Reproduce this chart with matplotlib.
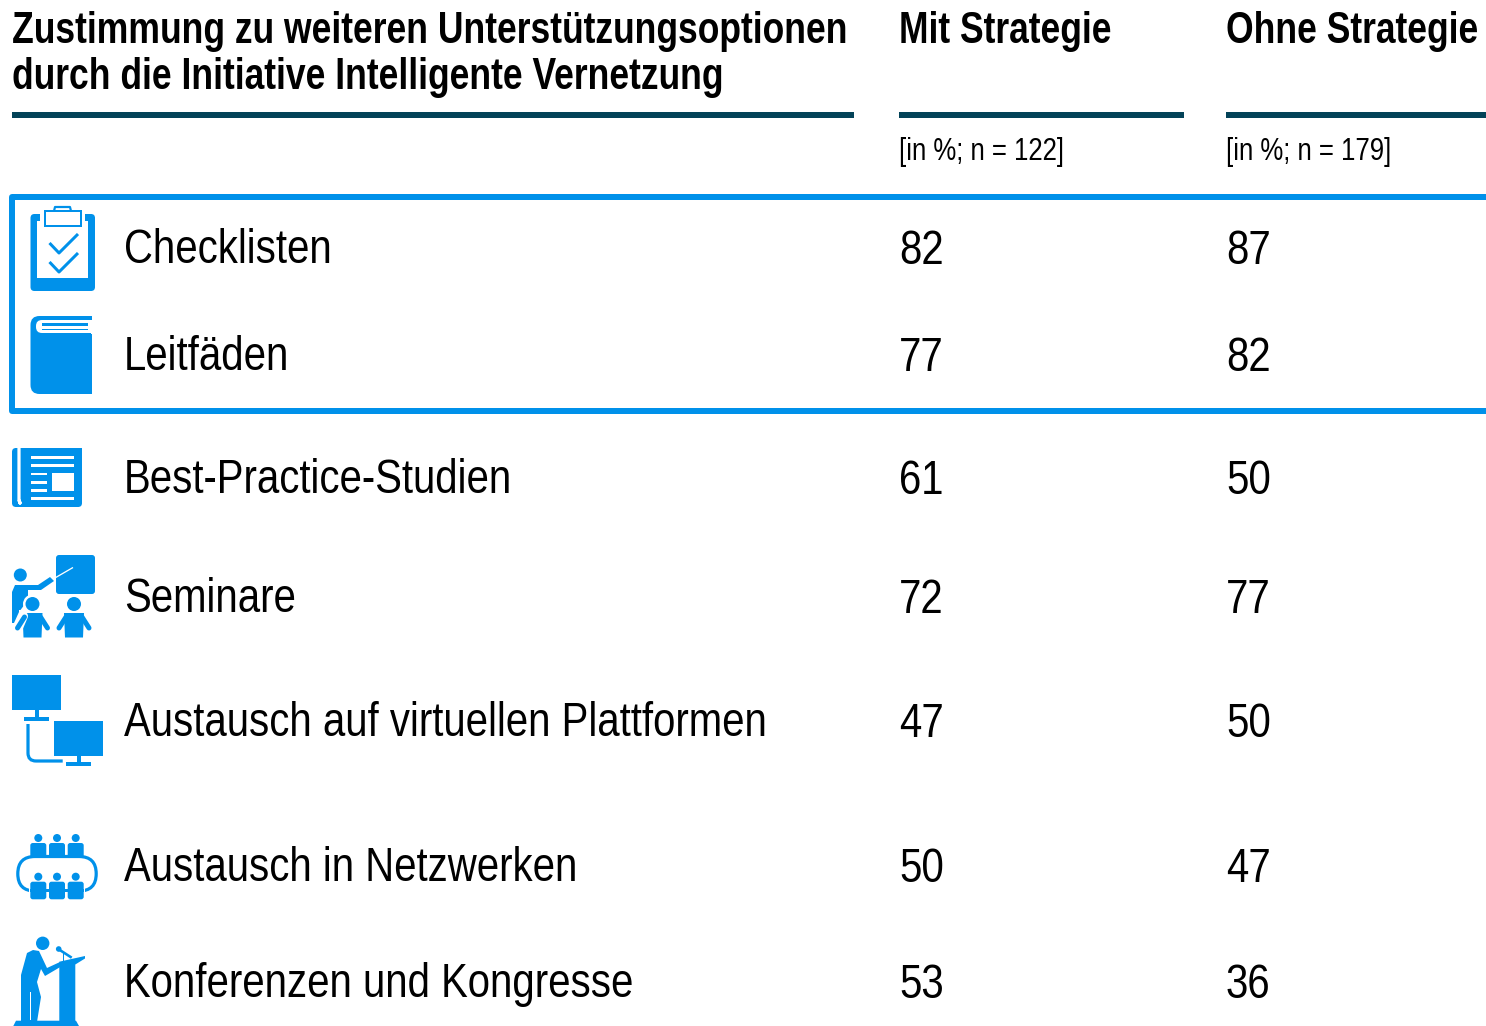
"""Zustimmung zu Unterstuetzungsoptionen: table with icons."""
import tempfile
from pathlib import Path

import matplotlib
matplotlib.use("Agg")
import matplotlib.pyplot as plt
from fontTools.ttLib import TTFont
from matplotlib import font_manager as fm
from matplotlib.font_manager import FontProperties
from matplotlib.patches import Circle, FancyBboxPatch, PathPatch, Polygon, Rectangle
from matplotlib.path import Path as MPath

BLUE = "#0091EA"
TEAL = "#034358"
PX = 72 / 100  # one pixel in points at dpi 100

title_lines = ["Zustimmung zu weiteren Unterstützungsoptionen",
               "durch die Initiative Intelligente Vernetzung"]
col_heads = ["Mit Strategie", "Ohne Strategie"]
col_subs = ["[in %; n = 122]", "[in %; n = 179]"]
options = ["Checklisten", "Leitfäden", "Best-Practice-Studien", "Seminare",
           "Austausch auf virtuellen Plattformen", "Austausch in Netzwerken",
           "Konferenzen und Kongresse"]
mit_strategie = [82, 77, 61, 72, 47, 50, 53]
ohne_strategie = [87, 82, 50, 77, 50, 47, 36]

row_base = [264, 371, 494, 613, 737, 882, 998]
col_x = [899, 1226]


def narrow_font(weight, scale):
    # no narrow Helvetica here, so squeeze Liberation Sans sideways
    src = fm.findfont(FontProperties(family="Liberation Sans", weight=weight))
    font = TTFont(src)
    glyf, hmtx = font["glyf"], font["hmtx"]
    for name in font.getGlyphOrder():
        g = glyf[name]
        if g.isComposite():
            for c in g.components:
                c.x = round(c.x * scale)
        elif g.numberOfContours > 0:
            g.coordinates.scale((scale, 1))
            g.coordinates.toInt()
        adv, lsb = hmtx[name]
        hmtx[name] = (round(adv * scale), round(lsb * scale))
    for name in font.getGlyphOrder():
        if glyf[name].numberOfContours != 0:
            glyf[name].recalcBounds(glyf)
    if "kern" in font:
        for table in font["kern"].kernTables:
            table.kernTable = {k: round(v * scale) for k, v in table.kernTable.items()}
    for tag in ("fpgm", "prep", "cvt ", "hdmx", "VDMX", "LTSH"):
        if tag in font:
            del font[tag]
    out = Path(tempfile.mkdtemp()) / f"narrow_{weight}.ttf"
    font.save(out)
    return str(out)


REGULAR = narrow_font("normal", 0.826)
BOLD = narrow_font("bold", 0.797)

fig = plt.figure(figsize=(14.86, 10.26), dpi=100)
ax = fig.add_axes([0, 0, 1, 1])
ax.set_xlim(0, 1486)
ax.set_ylim(1026, 0)
ax.axis("off")


def rect(x0, y0, x1, y1, color=BLUE):
    ax.add_patch(Rectangle((x0, y0), x1 - x0, y1 - y0, fc=color, ec="none"))


def rrect(x0, y0, x1, y1, r, fc=BLUE):
    ax.add_patch(FancyBboxPatch((x0 + r, y0 + r), x1 - x0 - 2 * r, y1 - y0 - 2 * r,
                                boxstyle=f"round,pad={r}", fc=fc, ec="none"))


def line(pts, lw=3.0, color=BLUE, cap="butt"):
    xs, ys = zip(*pts)
    ax.plot(xs, ys, color=color, lw=lw * PX, solid_capstyle=cap, solid_joinstyle="round")


def dot(x, y, r, color=BLUE):
    ax.add_patch(Circle((x, y), r, fc=color, ec="none"))


def poly(pts, color=BLUE):
    ax.add_patch(Polygon(pts, closed=True, fc=color, ec="none"))


def icon_clipboard():
    rrect(30.5, 214, 95, 291, 4)
    rect(37, 221, 88, 278, "white")
    rect(40, 213, 85, 222, "white")
    ax.add_patch(Rectangle((44.7, 211), 36, 15, fc="white", ec=BLUE, lw=2 * PX))
    line([(54, 211), (55, 207), (70, 207), (71, 211)], lw=2.2)
    line([(49.5, 243), (59, 253), (78, 234)], lw=3)
    line([(49.5, 262), (59, 272), (78, 253)], lw=3)


def icon_book():
    rrect(30.5, 316, 92, 394, 9)
    rect(80, 316, 92, 394)
    rrect(36, 320, 92, 333, 6, fc="white")
    rect(85, 320, 92, 333, "white")
    rect(42, 323, 88, 326)
    rect(42, 328.5, 88, 329.5)
    rect(40, 333, 91.5, 339)
    rect(91, 330, 92, 334, "white")


def icon_news():
    rrect(12, 448, 82, 507, 4)
    rect(15, 448, 82, 455)
    line([(19, 447), (19, 500), (20, 503), (19, 500)], lw=3.2, color="white")
    for y0 in (456, 464):
        rect(31, y0, 74, y0 + 3, "white")
    for y0 in (472.5, 481, 489):
        rect(31, y0, 47, y0 + 2.8, "white")
    rect(52, 472.5, 74, 491, "white")
    rect(31, 496.7, 74, 499.7, "white")


def student(cx, halo=False):
    if halo:
        dot(cx, 604, 9.5, "white")
        line([(cx - 9, 616), (cx - 15, 630)], lw=9, color="white", cap="round")
        rect(cx - 14, 610, cx + 14, 616, "white")
    dot(cx, 604, 7)
    line([(cx - 8, 617), (cx - 15, 628)], lw=5, cap="round")
    line([(cx + 8, 617), (cx + 15, 628)], lw=5, cap="round")
    poly([(cx - 10, 613), (cx + 10, 613), (cx + 9, 637.5), (cx - 9, 637.5)])


def icon_seminar():
    rrect(56, 555, 95, 594, 3)
    line([(54, 578.5), (73, 567.5)], lw=1.3, color="white")
    dot(20.3, 575, 6.5)
    poly([(12, 592), (15, 585), (38, 585), (50, 577), (54, 581), (41, 590), (28, 590), (28, 600),
          (19, 612), (14, 623), (12, 623)])
    student(32.5, halo=True)
    student(74)


def monitor(x0, y0):
    rect(x0, y0, x0 + 49, y0 + 35)
    rect(x0 + 23, y0 + 35, x0 + 27, y0 + 43)
    rect(x0 + 12, y0 + 41.7, x0 + 37, y0 + 45.5)


def icon_network():
    monitor(12, 675)
    monitor(54, 720.5)
    cable = MPath([(28, 724), (28, 753), (28, 761), (36, 761), (62.7, 761)],
                  [MPath.MOVETO, MPath.LINETO, MPath.CURVE3, MPath.CURVE3, MPath.LINETO])
    ax.add_patch(PathPatch(cable, fc="none", ec=BLUE, lw=3.2 * PX))


def seated(cx, top, bottom, head_y):
    dot(cx, head_y, 4)
    rrect(cx - 8, top, cx + 8, bottom, 2.5)


def icon_meeting():
    seats = (38.3, 57, 75.7)
    for cx in seats:
        seated(cx, 843, 858, 838)
    ax.add_patch(FancyBboxPatch((35, 873.7), 44, 0.1, boxstyle="round,pad=17.2", fc="none",
                                ec=BLUE, lw=3.2 * PX))
    for cx in seats:
        dot(cx, 876.7, 6, "white")
        rect(cx - 9.5, 880, cx + 9.5, 893, "white")
    for cx in seats:
        seated(cx, 881.7, 899.3, 876.7)
    rect(30, 889, 84, 892)


def icon_speaker():
    dot(42.7, 943.3, 6.7)
    poly([(21, 975), (27, 953), (33, 950), (39, 951), (47, 968), (60, 962), (62, 966), (45, 976),
          (41, 969), (37, 982), (41, 997), (37, 1022), (21, 1022)])
    rect(30, 992, 31.2, 1020, "white")
    poly([(59.3, 961.7), (85, 956), (85, 958.5), (75.3, 964.5), (75.3, 1022), (59.3, 1022)])
    dot(58.7, 949, 2.8)
    line([(59, 949.5), (71.7, 957.7)], lw=2.6)
    rect(62.8, 952, 64, 962)
    poly([(16, 1020.7), (76, 1020.7), (79, 1026), (13.3, 1026)])


# header
for i, txt in enumerate(title_lines):
    ax.text(12, 43 + 46 * i, txt, fontproperties=FontProperties(fname=BOLD, size=32),
            va="baseline", ha="left", color="black")
for x, head, sub in zip(col_x, col_heads, col_subs):
    ax.text(x, 43, head, fontproperties=FontProperties(fname=BOLD, size=32),
            va="baseline", ha="left", color="black")
    ax.text(x, 160, sub, fontproperties=FontProperties(fname=REGULAR, size=22.5),
            va="baseline", ha="left", color="black")
rect(12, 112, 854, 118, TEAL)
rect(899, 112, 1184, 118, TEAL)
rect(1226, 112, 1486, 118, TEAL)

# highlight frame, open on the right
line([(1490, 197), (11.5, 197), (11.5, 411), (1490, 411)], lw=6)

# rows
big = FontProperties(fname=REGULAR, size=35)
for y, name, a, b in zip(row_base, options, mit_strategie, ohne_strategie):
    ax.text(124, y - 1, name, fontproperties=big, va="baseline", ha="left", color="black")
    ax.text(col_x[0], y, str(a), fontproperties=big, va="baseline", ha="left", color="black")
    ax.text(col_x[1], y, str(b), fontproperties=big, va="baseline", ha="left", color="black")

icon_clipboard()
icon_book()
icon_news()
icon_seminar()
icon_network()
icon_meeting()
icon_speaker()

fig.savefig("out.png", dpi=100)
